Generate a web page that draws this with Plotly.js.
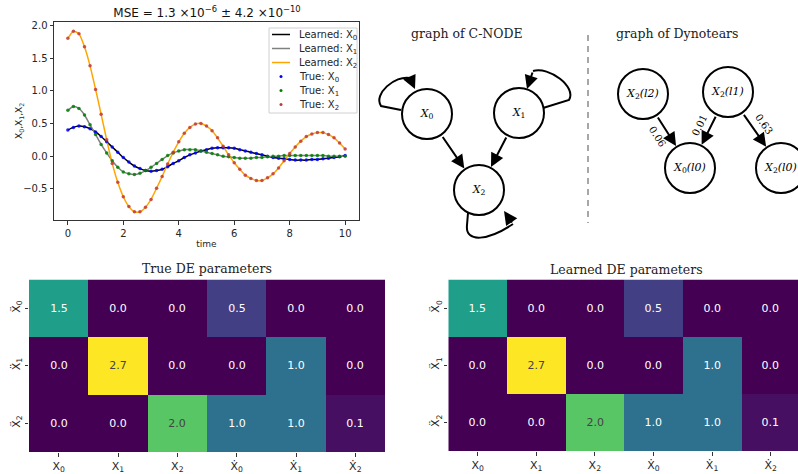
<!DOCTYPE html>
<html><head><meta charset="utf-8">
<script src="https://cdn.plot.ly/plotly-3.0.1.min.js"></script>
<style>html,body{margin:0;padding:0;background:#fff}#chart{width:798px;height:474px}</style>
</head><body><div id="chart"></div>
<script>
// ---------------- data ----------------
const timeSteps = [0,0.2,0.4,0.6,0.8,1.0,1.2,1.4,1.6,1.8,2.0,2.2,2.4,2.6,2.8,3.0,3.2,3.4,3.6,3.8,4.0,4.2,4.4,4.6,4.8,5.0,5.2,5.4,5.6,5.8,6.0,6.2,6.4,6.6,6.8,7.0,7.2,7.4,7.6,7.8,8.0,8.2,8.4,8.6,8.8,9.0,9.2,9.4,9.6,9.8,10.0];
const trueX0 = [0.40,0.44,0.46,0.45,0.42,0.37,0.30,0.22,0.14,0.06,-0.02,-0.09,-0.15,-0.19,-0.22,-0.23,-0.22,-0.20,-0.16,-0.11,-0.07,-0.02,0.02,0.05,0.08,0.10,0.12,0.13,0.13,0.13,0.12,0.10,0.08,0.06,0.04,0.02,0.00,-0.02,-0.03,-0.04,-0.05,-0.06,-0.06,-0.06,-0.05,-0.05,-0.04,-0.03,-0.02,-0.01,0.01];
const trueX1 = [0.70,0.76,0.73,0.63,0.48,0.33,0.18,0.05,-0.07,-0.17,-0.24,-0.27,-0.28,-0.26,-0.22,-0.17,-0.11,-0.05,0.01,0.05,0.08,0.10,0.10,0.10,0.08,0.06,0.04,0.02,0.00,-0.01,-0.02,-0.03,-0.03,-0.03,-0.02,-0.02,-0.01,0.00,0.00,0.01,0.01,0.01,0.01,0.01,0.01,0.01,0.01,0.00,0.00,0.00,0.00];
const trueX2 = [1.80,1.91,1.87,1.67,1.38,1.02,0.64,0.25,-0.11,-0.40,-0.62,-0.77,-0.85,-0.85,-0.78,-0.66,-0.49,-0.31,-0.12,0.06,0.22,0.35,0.44,0.49,0.50,0.46,0.39,0.28,0.15,0.02,-0.10,-0.20,-0.29,-0.34,-0.37,-0.37,-0.33,-0.27,-0.18,-0.07,0.04,0.14,0.23,0.30,0.34,0.36,0.36,0.33,0.28,0.20,0.11];
const learnedX0 = trueX0.slice();
const learnedX1 = trueX1.slice();
const learnedX2 = trueX2.slice();

const paramCols = ['X<sub>0</sub>','X<sub>1</sub>','X<sub>2</sub>','\u1E8A<sub>0</sub>','\u1E8A<sub>1</sub>','\u1E8A<sub>2</sub>'];
const paramRows = ['\u1E8C<sub>0</sub>','\u1E8C<sub>1</sub>','\u1E8C<sub>2</sub>'];
const trueParams = [[1.5,0.0,0.0,0.5,0.0,0.0],[0.0,2.7,0.0,0.0,1.0,0.0],[0.0,0.0,2.0,1.0,1.0,0.1]];
const learnedParams = [[1.5,0.0,0.0,0.5,0.0,0.0],[0.0,2.7,0.0,0.0,1.0,0.0],[0.0,0.0,2.0,1.0,1.0,0.1]];

const cnodeNodes = ['X0','X1','X2'];
const cnodeLabels = ['<i>X</i><sub>0</sub>','<i>X</i><sub>1</sub>','<i>X</i><sub>2</sub>'];
const cnodeEdges = [['X0','X2'],['X1','X2']];
const cnodeLoops = ['X0','X1','X2'];
const dynoNodes = ['X2(l2)','X2(l1)','X0(l0)','X2(l0)'];
const dynoLabels = ['<i>X</i><sub>2</sub><i>(l2)</i>','<i>X</i><sub>2</sub><i>(l1)</i>','<i>X</i><sub>0</sub><i>(l0)</i>','<i>X</i><sub>2</sub><i>(l0)</i>'];
const dynoEdges = [['X2(l2)','X0(l0)'],['X2(l1)','X0(l0)'],['X2(l1)','X2(l0)']];
const dynoWeights = ['0.06','0.01','0.63'];

// ---------------- graph drawing layout (figure px) ----------------
const W = 798, H = 474;
const px = v => v / W, py = v => 1 - v / H;
const nodePos = {X0:[427,114], X1:[519,113], X2:[479,190],
  'X2(l2)':[643,94], 'X2(l1)':[728,92], 'X0(l0)':[690,168], 'X2(l0)':[781,168]};
const NODE_R = 26;
const loopGeom = {
  X0: [[-26,-4],[-46,-8],[-54,-20],[-32,-39],[-17,-36],[-12,-25]],
  X1: [[24,-5],[50,-13],[58,-26],[30,-47],[14,-42],[8,-24]],
  X2: [[-11,23],[-12,35],[-14,54],[10,50],[34,34],[25,21]]
};
const labelSide = [1, 1, -1];

const serif = 'DejaVu Serif';
const sans = 'DejaVu Sans';
const tickCol = '#262626';

const traces = [];
// line chart
[[learnedX0,'#000000'],[learnedX1,'#808080'],[learnedX2,'#ffa500']].forEach(([y,c]) => {
  traces.push({type:'scatter', mode:'lines', x:timeSteps, y:y, xaxis:'x', yaxis:'y',
    line:{color:c, width:1.5, shape:'spline', smoothing:0.6}, hoverinfo:'skip'});
});
[[trueX0,'#0000ff'],[trueX1,'#008000'],[trueX2,'#c03a3a']].forEach(([y,c]) => {
  traces.push({type:'scatter', mode:'markers', x:timeSteps, y:y, xaxis:'x', yaxis:'y',
    marker:{color:c, size:3.5, opacity:0.85}, hoverinfo:'skip'});
});
// heatmaps
traces.push({type:'heatmap', z:trueParams, x:[0,1,2,3,4,5], y:[0,1,2], xaxis:'x2', yaxis:'y2',
  colorscale:'Viridis', zmin:0, zmax:2.7, showscale:false, texttemplate:'%{z:.1f}',
  textfont:{family:sans, size:11}, hoverinfo:'skip'});
traces.push({type:'heatmap', z:learnedParams, x:[0,1,2,3,4,5], y:[0,1,2], xaxis:'x3', yaxis:'y3',
  colorscale:'Viridis', zmin:0, zmax:2.7, showscale:false, texttemplate:'%{z:.1f}',
  textfont:{family:sans, size:11}, hoverinfo:'skip'});

const shapes = [];
const annotations = [];
function paperText(x, y, text, font, extra) {
  annotations.push(Object.assign({xref:'paper', yref:'paper', x:px(x), y:py(y), text:text, showarrow:false,
    xanchor:'center', yanchor:'middle', font:font}, extra || {}));
}
const arrowStyle = {text:'', showarrow:true, arrowhead:2, arrowsize:1.35, arrowwidth:2, arrowcolor:'#000', standoff:0};

// self loops (curves)
cnodeLoops.forEach(n => {
  const [cx, cy] = nodePos[n];
  const g = loopGeom[n].map(([dx,dy]) => [cx+dx, cy+dy]);
  shapes.push({type:'path', xref:'x4', yref:'y4',
    path:`M ${g[0][0]},${g[0][1]} L ${g[1][0]},${g[1][1]} C ${g[2][0]},${g[2][1]} ${g[3][0]},${g[3][1]} ${g[4][0]},${g[4][1]}`,
    line:{color:'#000', width:2}});
  annotations.push(Object.assign({xref:'x4', yref:'y4', axref:'x4', ayref:'y4', x:g[5][0], y:g[5][1], ax:g[4][0], ay:g[4][1]}, arrowStyle));
});
// directed edges
function edgeArrow(a, b) {
  const [x1,y1] = nodePos[a], [x2,y2] = nodePos[b];
  const dx = x2-x1, dy = y2-y1, L = Math.hypot(dx,dy), ux = dx/L, uy = dy/L;
  const s = [x1+ux*NODE_R, y1+uy*NODE_R], t = [x2-ux*NODE_R, y2-uy*NODE_R];
  annotations.push(Object.assign({xref:'x4', yref:'y4', axref:'x4', ayref:'y4', x:t[0], y:t[1], ax:s[0], ay:s[1]}, arrowStyle));
  return {s, t, ux, uy};
}
cnodeEdges.forEach(([a,b]) => edgeArrow(a,b));
dynoEdges.forEach(([a,b], i) => {
  const e = edgeArrow(a,b);
  const mx = (e.s[0]+e.t[0])/2, my = (e.s[1]+e.t[1])/2;
  const off = 11*labelSide[i];
  let ang = Math.atan2(e.uy, e.ux)*180/Math.PI;
  if (ang > 90) ang -= 180; if (ang < -90) ang += 180;
  annotations.push({xref:'x4', yref:'y4', x:mx - e.uy*off, y:my + e.ux*off, text:dynoWeights[i],
    xanchor:'center', yanchor:'middle',
    textangle:ang, showarrow:false, font:{family:serif, size:10, color:'#000'}});
});
// nodes
const allNodes = cnodeNodes.concat(dynoNodes), allLabels = cnodeLabels.concat(dynoLabels);
traces.push({type:'scatter', mode:'markers+text', xaxis:'x4', yaxis:'y4',
  x: allNodes.map(n => nodePos[n][0]), y: allNodes.map(n => nodePos[n][1]),
  text: allLabels, textposition:'middle center',
  textfont:{family:serif, size:11, color:'#000'},
  marker:{size:2*NODE_R-2, color:'#fff', line:{color:'#000', width:2}}, hoverinfo:'skip', cliponaxis:true});

// dashed separator
shapes.push({type:'line', xref:'x4', yref:'y4', x0:588, x1:588, y0:35, y1:223,
  line:{color:'#8a8a8a', width:1.5, dash:'6px,5px'}});

// graph titles, heatmap titles
const titleFont = {family:serif, size:12.5, color:'#222'};
paperText(467, 33, 'graph of C-NODE', titleFont);
paperText(677, 33, 'graph of Dynotears', titleFont);
paperText(207, 268, 'True DE parameters', titleFont);
paperText(626, 269, 'Learned DE parameters', titleFont);
// y-axis title of the line chart
paperText(19, 121, 'X<sub>0</sub>,X<sub>1</sub>,X<sub>2</sub>', {family:sans, size:9, color:tickCol}, {textangle:-90});

// custom legend
shapes.push({type:'rect', xref:'paper', yref:'paper', x0:px(269), x1:px(357), y0:py(28), y1:py(113),
  fillcolor:'rgba(255,255,255,0.85)', line:{color:'#d0d0d0', width:1}});
const legItems = [
  ['line','#000000','Learned: X<sub>0</sub>'],['line','#808080','Learned: X<sub>1</sub>'],['line','#ffa500','Learned: X<sub>2</sub>'],
  ['dot','#0000ff','True: X<sub>0</sub>'],['dot','#008000','True: X<sub>1</sub>'],['dot','#c03a3a','True: X<sub>2</sub>']];
const legY = [34.5, 48.5, 62.5, 76.5, 90.5, 104.5];
legItems.forEach(([k,c,t], i) => {
  if (k === 'line') shapes.push({type:'line', xref:'paper', yref:'paper', x0:px(272), x1:px(290), y0:py(legY[i]), y1:py(legY[i]), line:{color:c, width:1.5}});
  else shapes.push({type:'circle', xref:'paper', yref:'paper', x0:px(279.5), x1:px(282.5), y0:py(legY[i]-1.5), y1:py(legY[i]+1.5), fillcolor:c, line:{width:0}});
  paperText(297, legY[i]+1, t, {family:sans, size:10, color:tickCol}, {xanchor:'left'});
});

const baseAx = {showgrid:false, zeroline:false, ticks:'outside', ticklen:3.5, tickwidth:1, tickcolor:'#333',
  tickfont:{family:sans, size:10, color:tickCol}, automargin:false};

const layout = {
  width:W, height:H, margin:{l:0,r:0,t:0,b:0}, paper_bgcolor:'#fff', plot_bgcolor:'#fff', showlegend:false,
  title:{text:'MSE = 1.3 \u00d710<sup>\u22126</sup> \u00b1 4.2 \u00d710<sup>\u221210</sup>', x:px(207), xanchor:'center',
    y:1-13/H, yanchor:'middle', yref:'container', font:{family:sans, size:12, color:'#111'}},
  xaxis: Object.assign({}, baseAx, {domain:[px(54), px(359)], range:[-0.5,10.5], anchor:'y',
    tickvals:[0,2,4,6,8,10], showline:true, mirror:true, linecolor:'#333', linewidth:1,
    title:{text:'time', font:{family:sans, size:9, color:tickCol}, standoff:3}}),
  yaxis: Object.assign({}, baseAx, {domain:[py(220), py(22)], range:[-0.975,2.05], anchor:'x',
    tickvals:[-0.5,0,0.5,1,1.5,2], tickformat:'.1f', showline:true, mirror:true, linecolor:'#333', linewidth:1}),
  xaxis2: Object.assign({}, baseAx, {domain:[px(29), px(385)], range:[-0.5,5.5], anchor:'y2',
    tickvals:[0,1,2,3,4,5], ticktext:paramCols, showline:false, tickfont:{family:sans, size:11, color:tickCol}}),
  yaxis2: Object.assign({}, baseAx, {domain:[py(452), py(279.5)], range:[2.5,-0.5], anchor:'x2',
    tickvals:[0,1,2], ticktext:paramRows, tickangle:-90, showline:false, tickfont:{family:sans, size:11, color:tickCol}}),
  xaxis3: Object.assign({}, baseAx, {domain:[px(448.3), 1], range:[-0.5,5.466], anchor:'y3',
    tickvals:[0,1,2,3,4,5], ticktext:paramCols, showline:false, tickfont:{family:sans, size:11, color:tickCol}}),
  yaxis3: Object.assign({}, baseAx, {domain:[py(451), py(279.5)], range:[2.5,-0.5], anchor:'x3',
    tickvals:[0,1,2], ticktext:paramRows, tickangle:-90, showline:false, tickfont:{family:sans, size:11, color:tickCol}}),
  xaxis4: {domain:[px(360), 1], range:[360, 798], visible:false, anchor:'y4', fixedrange:true},
  yaxis4: {domain:[py(240), 1], range:[240, 0], visible:false, anchor:'x4', fixedrange:true},
  shapes: shapes,
  annotations: annotations
};

Plotly.newPlot('chart', traces, layout, {displayModeBar:false, staticPlot:true});
</script>
</body></html>
